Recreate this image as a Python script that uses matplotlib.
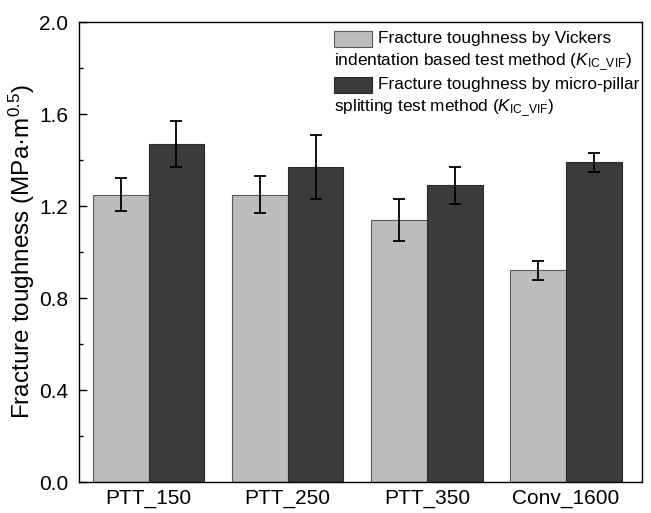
import matplotlib
matplotlib.use("Agg")
import matplotlib.pyplot as plt
from matplotlib.patches import Rectangle
from matplotlib.ticker import MultipleLocator
import numpy as np

plt.rcParams['font.family'] = ['Liberation Sans', 'DejaVu Sans']
plt.rcParams['mathtext.fontset'] = 'custom'
plt.rcParams['mathtext.rm'] = 'Liberation Sans'
plt.rcParams['mathtext.it'] = 'Liberation Sans:italic'

# values
samples = ["PTT_150", "PTT_250", "PTT_350", "Conv_1600"]
vickers = [1.25, 1.25, 1.14, 0.92]
vickers_err = [0.07, 0.08, 0.09, 0.04]
pillar = [1.47, 1.37, 1.29, 1.39]
pillar_err = [0.10, 0.14, 0.08, 0.04]

LIGHT = "#bcbcbc"
DARK = "#3b3b3b"

fig = plt.figure(figsize=(6.51, 5.13), dpi=100)
ax = fig.add_axes([0.1214, 0.0604, 0.865, 0.8967])

x = np.arange(len(samples))
w = 0.4
ax.bar(x - w / 2, vickers, w, color=LIGHT, edgecolor="#5a5a5a", linewidth=0.8)
ax.bar(x + w / 2, pillar, w, color=DARK, edgecolor="#2a2a2a", linewidth=0.8)
ax.errorbar(x - w / 2, vickers, yerr=vickers_err, fmt="none", ecolor="black",
            elinewidth=1.3, capsize=4, capthick=1.3)
ax.errorbar(x + w / 2, pillar, yerr=pillar_err, fmt="none", ecolor="black",
            elinewidth=1.3, capsize=4, capthick=1.3)

ax.set_xlim(-0.5, 3.547)
ax.set_ylim(0, 2.0)
ax.set_xticks(x)
ax.set_xticklabels(samples, fontsize=15)
ax.tick_params(axis="x", length=0, pad=5)
ax.yaxis.set_major_locator(MultipleLocator(0.4))
ax.yaxis.set_minor_locator(MultipleLocator(0.2))
ax.tick_params(axis="y", which="major", direction="in", length=6, width=1,
               labelsize=15, pad=8)
ax.tick_params(axis="y", which="minor", direction="in", length=3, width=1)
ax.set_yticklabels([f"{v:.1f}" for v in ax.get_yticks()])
ax.set_ylabel(r"Fracture toughness (MPa·m$^{0.5}$)", fontsize=17.5, labelpad=1)
for s in ax.spines.values():
    s.set_linewidth(1.0)

# legend drawn by hand: the second line of each entry starts under the swatch
def px(xp, yp):
    bb = ax.get_position()
    W, H = 651, 513
    return ((xp / W - bb.x0) / bb.width, ((1 - yp / H) - bb.y0) / bb.height)

sub = r"($K_{\mathrm{IC\_VIF}}$)"
entries = [
    (LIGHT, "#5a5a5a", 31, "Fracture toughness by Vickers",
     "indentation based test method " + sub),
    (DARK, "#2a2a2a", 77, "Fracture toughness by micro-pillar",
     "splitting test method " + sub),
]
for fc, ec, ytop, line1, line2 in entries:
    x0, y0 = px(334, ytop + 16)
    x1, y1 = px(372, ytop)
    ax.add_patch(Rectangle((x0, y0), x1 - x0, y1 - y0, transform=ax.transAxes,
                           facecolor=fc, edgecolor=ec, linewidth=0.8))
    tx, ty = px(378, ytop + 8)
    ax.text(tx, ty, line1, transform=ax.transAxes, fontsize=12.4, va="center")
    tx, ty = px(334, ytop + 31)
    ax.text(tx, ty, line2, transform=ax.transAxes, fontsize=12.4, va="center")

fig.savefig("out.png", dpi=100)
